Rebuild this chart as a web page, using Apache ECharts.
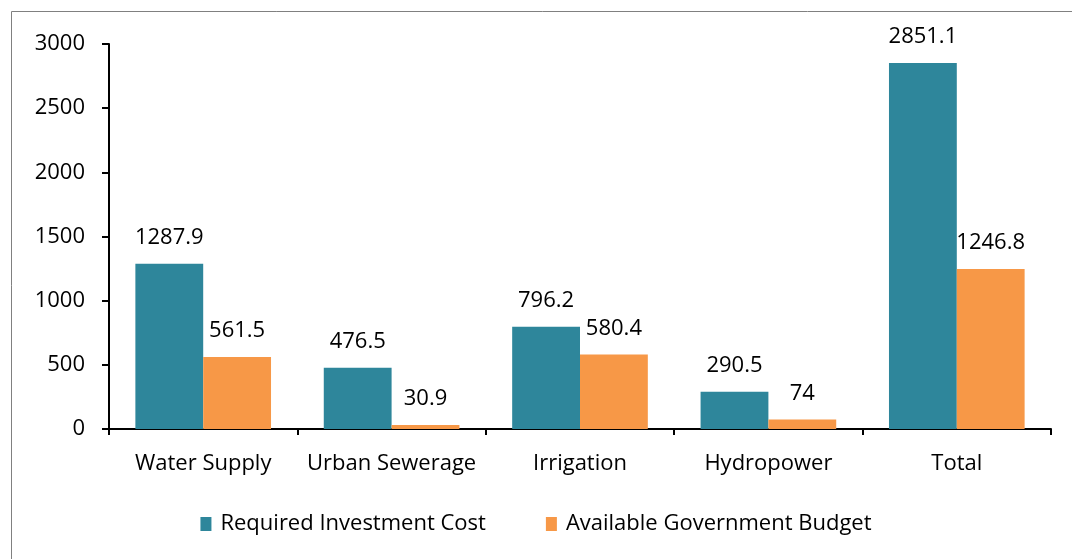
<!DOCTYPE html>
<html>
<head>
<meta charset="utf-8">
<script src="https://cdn.jsdelivr.net/npm/echarts@6/dist/echarts.min.js"></script>
<style>
  html, body { margin: 0; padding: 0; background: #fff; }
  #chart { width: 1072px; height: 559px; }
</style>
</head>
<body>
<div id="chart"></div>
<script>
// data
const categories = ['Water Supply', 'Urban Sewerage', 'Irrigation', 'Hydropower', 'Total']
const requiredCost = [1287.9, 476.5, 796.2, 290.5, 2851.1]
const govBudget = [561.5, 30.9, 580.4, 74, 1246.8]
const seriesNames = ['Required Investment Cost', 'Available Government Budget']

const font = '"Open Sans", "Noto Sans", sans-serif'

var myChart = echarts.init(document.getElementById('chart'))
myChart.setOption({
  animation: false,
  textStyle: { fontFamily: font },
  // grey frame around the chart area
  graphic: [
    {
      type: 'rect',
      shape: { x: 11.5, y: 11.5, width: 1100, height: 600 },
      style: { fill: 'none', stroke: '#808080', lineWidth: 1 },
      silent: true
    }
  ],
  grid: {
    left: 109,
    right: 21,
    top: 44,
    bottom: 130
  },
  legend: {
    bottom: 19,
    left: 'center',
    itemWidth: 11,
    itemHeight: 14,
    itemGap: 60,
    icon: 'rect',
    textStyle: { fontSize: 22, color: '#000', fontFamily: font, padding: [0, 0, 0, 4] }
  },
  xAxis: {
    type: 'category',
    data: categories,
    axisLine: { lineStyle: { color: '#000', width: 2 } },
    axisTick: { show: true, length: 6, lineStyle: { color: '#000', width: 2 } },
    axisLabel: { interval: 0, fontSize: 22, color: '#000', margin: 24, fontFamily: font }
  },
  yAxis: {
    type: 'value',
    min: 0,
    max: 3000,
    interval: 500,
    splitLine: { show: false },
    axisLine: { show: true, lineStyle: { color: '#000', width: 2 } },
    axisTick: { show: true, inside: false, length: 7, lineStyle: { color: '#000', width: 2 } },
    axisLabel: { fontSize: 22, color: '#000', margin: 24, fontFamily: font, formatter: v => String(v) }
  },
  series: [
    {
      name: seriesNames[0],
      type: 'bar',
      data: requiredCost,
      barGap: '0%',
      barCategoryGap: '28%',
      itemStyle: { color: '#2E869B' },
      label: { show: true, position: 'top', distance: 15, fontSize: 22, color: '#000', fontFamily: font }
    },
    {
      name: seriesNames[1],
      type: 'bar',
      data: govBudget,
      barGap: '0%',
      barCategoryGap: '28%',
      itemStyle: { color: '#F79847' },
      label: { show: true, position: 'top', distance: 15, fontSize: 22, color: '#000', fontFamily: font }
    }
  ]
})
</script>
</body>
</html>
